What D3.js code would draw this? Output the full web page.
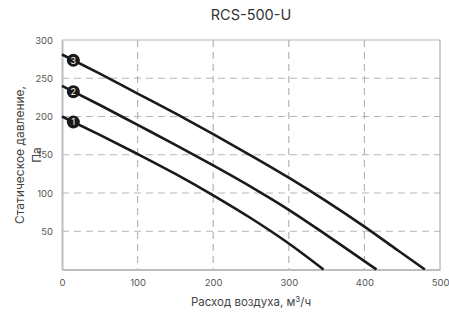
<!DOCTYPE html>
<html>
<head>
<meta charset="utf-8">
<script src="https://cdn.jsdelivr.net/npm/d3@7"></script>
<style>
  body { margin: 0; background: #fff; }
  text { font-family: Inter, "Noto Sans", sans-serif; }
</style>
</head>
<body>
<div id="chart"></div>
<script>
const chartTitle = "RCS-500-U";
const xTicks = [0, 100, 200, 300, 400, 500];
const yTicks = [50, 100, 150, 200, 250, 300];
const curveNames = ["1", "2", "3"];
const flow1 = [0, 50, 100, 150, 200, 250, 300, 346];
const pressure1 = [200, 176, 151, 125, 97, 67, 34, 0];
const flow2 = [0, 50, 100, 150, 200, 250, 300, 350, 416];
const pressure2 = [240, 215, 189, 163, 136, 108, 78, 45, 0];
const flow3 = [0, 50, 100, 150, 200, 250, 300, 350, 400, 440, 480];
const pressure3 = [281, 256, 230, 204, 177, 149, 120, 89, 56, 28, 0];
const markerFlow = 15;

const W = 449, H = 315;
const margin = { top: 40, right: 9, bottom: 45.5, left: 62 };

const svg = d3.select("#chart").append("svg")
    .attr("width", W)
    .attr("height", H);

const x = d3.scaleLinear().domain([0, 500]).range([margin.left, W - margin.right]);
const y = d3.scaleLinear().domain([0, 300]).range([H - margin.bottom, margin.top]);

// grid
svg.append("g")
    .selectAll("line")
    .data(xTicks.filter(d => d > 0 && d < 500))
    .join("line")
    .attr("x1", d => x(d)).attr("x2", d => x(d))
    .attr("y1", y(300)).attr("y2", y(0))
    .attr("stroke", "#b5b5b5")
    .attr("stroke-width", 1.2)
    .attr("stroke-dasharray", "7,5");

svg.append("g")
    .selectAll("line")
    .data(yTicks.filter(d => d < 300))
    .join("line")
    .attr("x1", x(0)).attr("x2", x(500))
    .attr("y1", d => y(d)).attr("y2", d => y(d))
    .attr("stroke", "#b5b5b5")
    .attr("stroke-width", 1.2)
    .attr("stroke-dasharray", "7,5");

// frame
svg.append("line")
    .attr("x1", x(0)).attr("x2", x(500))
    .attr("y1", y(300)).attr("y2", y(300))
    .attr("stroke", "#b5b5b5").attr("stroke-width", 1);
svg.append("line")
    .attr("x1", x(500)).attr("x2", x(500))
    .attr("y1", y(300)).attr("y2", y(0))
    .attr("stroke", "#a0a0a0").attr("stroke-width", 1);

// axes
const xAxis = svg.append("g")
    .attr("transform", `translate(0,${y(0)})`)
    .call(d3.axisBottom(x).tickValues(xTicks).tickSize(0).tickPadding(10));
const yAxis = svg.append("g")
    .attr("transform", `translate(${x(0)},0)`)
    .call(d3.axisLeft(y).tickValues(yTicks).tickSize(0).tickPadding(9));

[xAxis, yAxis].forEach(g => {
    g.select(".domain").attr("stroke", "#bdbdbd").attr("stroke-width", 2);
    g.selectAll("text").attr("fill", "#555").attr("font-size", 9.5);
});

// curves
const series = [
    { name: curveNames[0], flow: flow1, pressure: pressure1 },
    { name: curveNames[1], flow: flow2, pressure: pressure2 },
    { name: curveNames[2], flow: flow3, pressure: pressure3 }
];

const line = d3.line()
    .x(d => x(d[0]))
    .y(d => y(d[1]))
    .curve(d3.curveMonotoneX);

svg.append("g")
    .selectAll("path")
    .data(series)
    .join("path")
    .attr("d", s => line(d3.zip(s.flow, s.pressure)))
    .attr("fill", "none")
    .attr("stroke", "#1a1a1a")
    .attr("stroke-width", 2.6);

// numbered markers
const markers = svg.append("g")
    .selectAll("g")
    .data(series)
    .join("g")
    .attr("transform", s => {
        const p = d3.scaleLinear().domain(s.flow).range(s.pressure)(markerFlow);
        return `translate(${x(markerFlow)},${y(p)})`;
    });

markers.append("circle")
    .attr("r", 6.5)
    .attr("fill", "#1a1a1a");

markers.append("text")
    .attr("text-anchor", "middle")
    .attr("dy", "0.36em")
    .attr("fill", "#fff")
    .attr("font-size", 9)
    .text(s => s.name);

// titles
svg.append("text")
    .attr("x", 251)
    .attr("y", 20)
    .attr("text-anchor", "middle")
    .attr("fill", "#333")
    .attr("font-size", 14.5)
    .text(chartTitle);

svg.append("text")
    .attr("x", 251)
    .attr("y", 306)
    .attr("text-anchor", "middle")
    .attr("fill", "#444")
    .attr("font-size", 11.5)
    .html("Расход воздуха, м<tspan dy='-4' font-size='8'>3</tspan><tspan dy='4'>/ч</tspan>");

const yLabel = svg.append("text")
    .attr("transform", `translate(24,155) rotate(-90)`)
    .attr("text-anchor", "middle")
    .attr("fill", "#444")
    .attr("font-size", 12);
yLabel.append("tspan").attr("x", 0).attr("dy", 0).text("Статическое давление,");
yLabel.append("tspan").attr("x", 0).attr("dy", "1.4em").text("Па");
</script>
</body>
</html>
